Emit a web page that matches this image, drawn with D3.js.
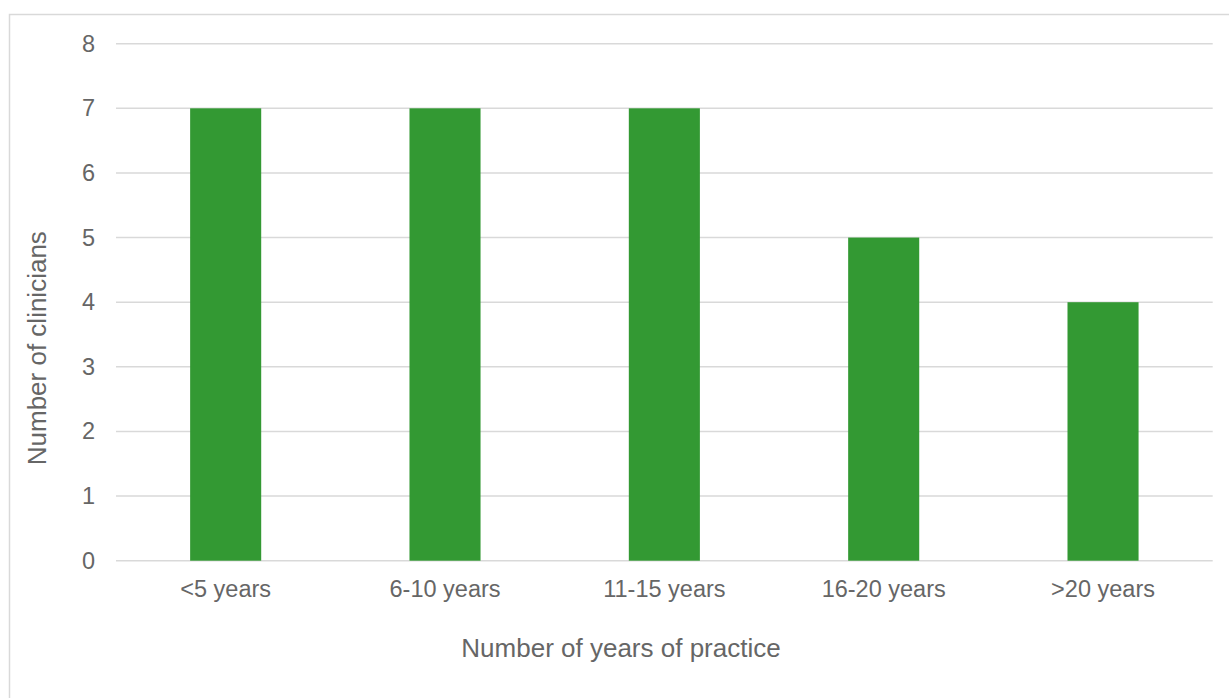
<!DOCTYPE html>
<html>
<head>
<meta charset="utf-8">
<script src="https://cdn.jsdelivr.net/npm/d3@7"></script>
<style>
  body { margin: 0; background: #fff; }
  text { font-family: "Liberation Sans", Arial, sans-serif; fill: #666666; }
</style>
</head>
<body>
<div id="chart-area"></div>
<script>
// data
var categories = ["<5 years", "6-10 years", "11-15 years", "16-20 years", ">20 years"];
var clinicians = [7, 7, 7, 5, 4];
var yTicks = [0, 1, 2, 3, 4, 5, 6, 7, 8];

var width = 1229, height = 698;
var plot = { left: 116, right: 1212.7, top: 43.7, bottom: 560.7 };

var svg = d3.select("#chart-area").append("svg")
	.attr("width", width)
	.attr("height", height);

// chart border
svg.append("rect")
	.attr("x", 9.5)
	.attr("y", 14.5)
	.attr("width", 1240)
	.attr("height", 700)
	.attr("fill", "none")
	.attr("stroke", "#d9d9d9")
	.attr("stroke-width", 1.5);

var x = d3.scaleBand()
	.domain(categories)
	.range([plot.left, plot.right])
	.paddingInner(0.676)
	.paddingOuter(0.338);

var y = d3.scaleLinear()
	.domain([0, 8])
	.range([plot.bottom, plot.top]);

// gridlines
svg.append("g").selectAll("line")
	.data(yTicks)
	.enter()
	.append("line")
		.attr("x1", plot.left)
		.attr("x2", plot.right)
		.attr("y1", function(d){ return y(d); })
		.attr("y2", function(d){ return y(d); })
		.attr("stroke", "#d9d9d9")
		.attr("stroke-width", 1.5);

// y tick labels
var yAxis = svg.append("g")
	.attr("transform", "translate(" + plot.left + ",0)")
	.call(d3.axisLeft(y).tickValues(yTicks).tickSize(0).tickPadding(21));
yAxis.select(".domain").remove();
yAxis.selectAll("text")
	.style("font-size", "23.5px")
	.attr("fill", "#666666")
	.attr("font-family", "Liberation Sans, Arial, sans-serif");

// bars
svg.append("g").selectAll("rect")
	.data(clinicians)
	.enter()
	.append("rect")
		.attr("x", function(d, i){ return x(categories[i]); })
		.attr("y", function(d){ return y(d); })
		.attr("width", x.bandwidth())
		.attr("height", function(d){ return y(0) - y(d); })
		.style("fill", "#339933");

// x tick labels
var xAxis = svg.append("g")
	.attr("transform", "translate(0," + plot.bottom + ")")
	.call(d3.axisBottom(x).tickSize(0).tickPadding(20));
xAxis.select(".domain").remove();
xAxis.selectAll("text")
	.style("font-size", "23.5px")
	.attr("fill", "#666666")
	.attr("font-family", "Liberation Sans, Arial, sans-serif");

// axis titles
svg.append("text")
	.attr("x", 621)
	.attr("y", 657)
	.attr("text-anchor", "middle")
	.style("font-size", "26px")
	.text("Number of years of practice");

svg.append("text")
	.attr("transform", "translate(46," + ((plot.top + plot.bottom) / 2 + 46) + ") rotate(-90)")
	.attr("text-anchor", "middle")
	.style("font-size", "26px")
	.text("Number of clinicians");
</script>
</body>
</html>
